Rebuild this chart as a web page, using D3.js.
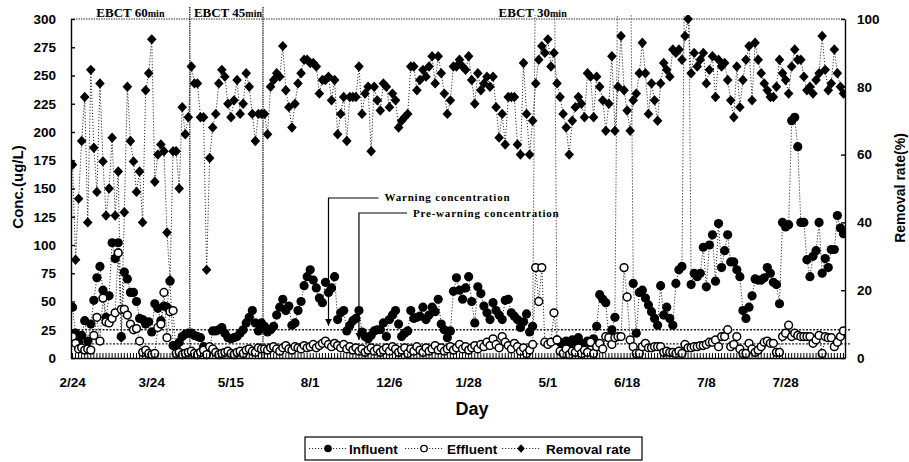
<!DOCTYPE html>
<html>
<head>
<meta charset="utf-8">
<script src="https://cdn.jsdelivr.net/npm/d3@7"></script>
<style>
  body { margin: 0; background: #fff; }
</style>
</head>
<body>
<div id="chart"></div>
<script>
// 进水浓度 (ug/L)，每天一个值
const influent = [
  45,22,14,20,33,15,30,51,71,81, 60,36,55,102,88,102,19,76,70,58,
  58,50,35,34,30,32,23,48,44,33, 46,45,68,11,10,14,19,21,22,
  22,20,19,18,10,5,8,24,24,25, 27,22,18,17,18,19,22,25,31,36, 42,31,24,31,
  28,23,25,28,38,45,52,42,46,29, 31,42,50,64,72,78,69,62,53,49,
  67,58,62,72,34,40,42,24,29,33, 35,42,23,19,17,20,24,25,25,31,
  19,34,38,42,30,19,22,24,42,35, 36,37,45,34,38,45,41,52,30,25,
  18,24,59,71,60,52,62,72,50,31, 63,57,46,40,34,49,42,38,34,51,
  52,40,37,34,27,32,39,23,28,
  380,420,360,410,450,390,400,
  16,14,9,15,12,16,14,18,13,11, 15,14,17,28,56,52,49,18,25,36,
  380,430,400,360,410,
  66,22,58,60,53,47,41,35,29,64, 38,45,35,29,66,78,81,400,420,65,
  75,72,75,98,63,100,109,68,119,80, 95,109,85,85,78,72,42,35,45,55,
  70,69,69,71,80,75,67,65,48,120, 116,118,210,213,187,120,120,87,72,90,
  95,120,75,88,80,96,96,126,115,110
];

// 出水浓度 (ug/L)
const effluent = [
  19,13,8,9,7,8,7,20,36,15, 53,32,31,35,40,93,43,43,38,30,
  25,26,15,5,7,4,3,4,27,30, 58,18,41,42,4,5,3,4,5,
  6,4,3,5,7,3,10,8,5,3, 4,5,6,4,3,5,6,4,7,8, 6,5,9,8,
  8,7,9,10,8,6,9,11,8,7, 10,9,8,11,9,10,12,9,11,13,
  15,12,10,13,11,9,12,8,10,7, 9,6,8,5,7,9,6,8,5,7,
  9,6,10,8,5,7,9,4,8,6, 10,7,5,9,6,8,11,7,9,6,
  8,10,7,9,12,8,10,7,9,11, 8,12,10,14,11,17,12,9,19,14,
  11,8,13,10,6,9,4,7,12,
  80,50,80,14,12,14,40,
  16,6,4,8,3,6,5,9,4,7, 5,14,4,10,13,8,19,18,12,18,
  19,19,80,54,16,
  10,4,4,10,13,9,9,10,10,10, 5,6,5,5,4,6,4,12,9,9,
  10,10,11,11,12,14,14,16,10,19, 19,25,10,12,19,8,4,4,13,8,
  5,7,10,14,15,13,13,5,5,19, 22,29,19,22,20,19,19,19,19,13,
  16,20,4,19,18,18,10,14,19,24
];

// 去除率 (%)
const removal = [
  57,29,47,64,77,40,85,62,49,81, 58,42,50,65,42,55,6,43,80,64,
  58,49,55,40,79,84,94,52,60,63, 61,37,23,61,61,50,74,66,71,
  86,81,81,71,71,26,59,68,72,81, 85,83,75,71,76,82,72,75,84,80, 72,64,72,72,
  72,66,80,82,84,83,92,79,74,68, 75,81,84,88,88,87,87,86,78,82,
  82,83,76,82,66,72,77,64,77,77, 77,86,72,78,80,61,80,76,73,81,
  80,74,78,76,68,70,71,72,86,86, 79,82,85,83,86,89,81,89,84,78,
  72,76,86,86,88,86,85,89,82,75, 84,79,81,83,80,83,74,65,72,63,
  77,77,77,63,60,87,72,60,70,81, 88,92,90,94,86,90,81,77,72,68,
  60,70,74,77,75,71,84,83,71,83, 80,76,67,75,89,67,80,95,79,73,
  67,76,78,84,93,84,72,81,76,70, 81,87,85,83,91,90,91,88,95,100,
  84,90,86,88,90,81,85,89,77,88, 86,87,82,76,71,86,74,82,88,92,
  76,93,88,84,81,79,77,77,80,88, 84,82,78,86,91,88,88,83,79,80,
  78,82,84,95,85,79,81,91,84,80,78
];

// 横轴标签，每 26 天一个
const dayLabels = ["2/24", "3/24", "5/15", "8/1", "12/6", "1/28", "5/1", "6/18", "7/8", "7/28"];
const labelEvery = 26;

// EBCT 阶段
const ebctNames = ["EBCT 60", "EBCT 45", "EBCT 30"];
const ebctStart = [0, 39, 63];
const ebctLabelAt = [19, 51, 151];

// 预警线
const warningLevel = 25;
const preWarningLevel = 12.5;
const warnArrowAt = 84;
const preWarnArrowAt = 94;

const legendNames = ["Influent", "Effluent", "Removal rate"];

const W = 909, H = 462;
const plot = { left: 71, right: 845, top: 19, bottom: 358 };
const N = removal.length;
const boldSans = "'Liberation Sans', Arial, sans-serif";
const boldSerif = "'Liberation Serif', 'Times New Roman', serif";

const svg = d3.select("#chart").append("svg")
    .attr("width", W)
    .attr("height", H);

svg.append("rect").attr("width", W).attr("height", H).attr("fill", "#fff");

// 比例尺
const x = d3.scaleBand().domain(d3.range(N)).range([plot.left, plot.right]);
const cx = i => x(i) + x.bandwidth() / 2;
const yL = d3.scaleLinear().domain([0, 300]).range([plot.bottom, plot.top]);
const yR = d3.scaleLinear().domain([0, 100]).range([plot.bottom, plot.top]);

svg.append("defs").append("clipPath").attr("id", "plotclip")
    .append("rect")
    .attr("x", plot.left).attr("y", plot.top - 4)
    .attr("width", plot.right - plot.left).attr("height", plot.bottom - plot.top + 6);

// 顶部虚线边框
svg.append("line")
    .attr("x1", plot.left).attr("x2", plot.right)
    .attr("y1", plot.top).attr("y2", plot.top)
    .attr("stroke", "#333").attr("stroke-width", 1)
    .attr("stroke-dasharray", "1.5,1");

// EBCT 分隔线
ebctStart.slice(1).forEach(s => {
    svg.append("line")
        .attr("x1", x(s)).attr("x2", x(s))
        .attr("y1", 7).attr("y2", plot.bottom)
        .attr("stroke", "#111").attr("stroke-width", 1.2)
        .attr("stroke-dasharray", "1.5,0.8");
});

ebctNames.forEach((name, k) => {
    const t = svg.append("text")
        .attr("x", cx(ebctLabelAt[k]))
        .attr("y", 17)
        .attr("text-anchor", "middle")
        .attr("font-family", boldSerif)
        .attr("font-weight", "bold")
        .attr("font-size", 13)
        .text(name);
    t.append("tspan").attr("font-size", 10).text("min");
});

// 预警线
[warningLevel, preWarningLevel].forEach(v => {
    svg.append("line")
        .attr("x1", plot.left).attr("x2", plot.right + 6)
        .attr("y1", yL(v)).attr("y2", yL(v))
        .attr("stroke", "#222").attr("stroke-width", 1.3)
        .attr("stroke-dasharray", "2,1.5");
});

// 折线
const lines = svg.append("g").attr("clip-path", "url(#plotclip)");

const lineInf = d3.line().x((d, i) => cx(i)).y(d => yL(d));
const lineRem = d3.line().x((d, i) => cx(i)).y(d => yR(d));

[[influent, lineInf], [effluent, lineInf], [removal, lineRem]].forEach(([arr, gen]) => {
    lines.append("path")
        .datum(arr)
        .attr("fill", "none")
        .attr("stroke", "#333")
        .attr("stroke-width", 1)
        .attr("stroke-dasharray", "1.2,1.8")
        .attr("d", gen);
});

// 标记
const marks = svg.append("g").attr("clip-path", "url(#plotclip)");

marks.selectAll(".inf")
    .data(influent)
    .enter()
    .append("circle")
    .attr("class", "inf")
    .attr("cx", (d, i) => cx(i))
    .attr("cy", d => yL(d))
    .attr("r", 4.6)
    .attr("fill", "#000");

marks.selectAll(".eff")
    .data(effluent)
    .enter()
    .append("circle")
    .attr("class", "eff")
    .attr("cx", (d, i) => cx(i))
    .attr("cy", d => yL(d))
    .attr("r", 3.9)
    .attr("fill", "#fff")
    .attr("stroke", "#000")
    .attr("stroke-width", 1.5);

const diamond = "M0,-5.2L4.8,0L0,5.2L-4.8,0Z";
marks.selectAll(".rem")
    .data(removal)
    .enter()
    .append("path")
    .attr("class", "rem")
    .attr("transform", (d, i) => `translate(${cx(i)},${yR(d)})`)
    .attr("d", diamond)
    .attr("fill", "#000");

// 坐标轴
const styleAxis = g => {
    g.attr("font-family", boldSans).attr("font-weight", "bold").attr("font-size", 13.5);
    g.selectAll("path, line").attr("stroke", "#000").attr("stroke-width", 1.4);
    g.selectAll("text").attr("fill", "#000");
};

svg.append("g")
    .attr("transform", `translate(0,${plot.bottom})`)
    .call(
        d3.axisBottom(x)
            .tickValues(d3.range(N))
            .tickSizeInner(-5)
            .tickSizeOuter(0)
            .tickPadding(19)
            .tickFormat(i => (i % labelEvery === 0 ? dayLabels[i / labelEvery] : ""))
    )
    .call(styleAxis)
    .selectAll(".tick line").attr("stroke-width", 1);

svg.append("g")
    .attr("transform", `translate(${plot.left},0)`)
    .call(d3.axisLeft(yL).tickValues(d3.range(0, 301, 25)).tickSizeInner(-4).tickSizeOuter(0).tickPadding(15))
    .call(styleAxis);

svg.append("g")
    .attr("transform", `translate(${plot.right},0)`)
    .call(d3.axisRight(yR).tickValues(d3.range(0, 101, 20)).tickSizeInner(-4).tickSizeOuter(0).tickPadding(12))
    .call(styleAxis);

// 轴标题
svg.append("text")
    .attr("transform", "translate(23,187) rotate(-90)")
    .attr("text-anchor", "middle")
    .attr("font-family", boldSans).attr("font-weight", "bold").attr("font-size", 15)
    .text("Conc.(ug/L)");

svg.append("text")
    .attr("transform", "translate(905,188) rotate(-90)")
    .attr("text-anchor", "middle")
    .attr("font-family", boldSans).attr("font-weight", "bold").attr("font-size", 14)
    .text("Removal rate(%)");

svg.append("text")
    .attr("x", 472).attr("y", 415)
    .attr("text-anchor", "middle")
    .attr("font-family", boldSans).attr("font-weight", "bold").attr("font-size", 18)
    .text("Day");

// 预警注释
svg.append("defs").append("marker")
    .attr("id", "arrow")
    .attr("viewBox", "0 0 10 10")
    .attr("refX", 10).attr("refY", 5)
    .attr("markerWidth", 6).attr("markerHeight", 6)
    .attr("orient", "auto")
    .append("path").attr("d", "M0,0L10,5L0,10Z").attr("fill", "#000");

const notes = [
    { at: warnArrowAt, level: warningLevel, y: 198, len: 50, text: "Warning concentration", ty: 201 },
    { at: preWarnArrowAt, level: preWarningLevel, y: 213, len: 48, text: "Pre-warning concentration", ty: 217 }
];
notes.forEach(n => {
    const ax = cx(n.at);
    svg.append("path")
        .attr("d", `M${ax + n.len},${n.y}H${ax}V${yL(n.level) - 4}`)
        .attr("fill", "none")
        .attr("stroke", "#000")
        .attr("stroke-width", 1.2)
        .attr("marker-end", "url(#arrow)");
    svg.append("text")
        .attr("x", ax + n.len + 6).attr("y", n.ty)
        .attr("font-family", boldSerif).attr("font-weight", "bold").attr("font-size", 11)
        .attr("letter-spacing", 0.8)
        .text(n.text);
});

// 图例
const legend = svg.append("g");
legend.append("rect")
    .attr("x", 305).attr("y", 437)
    .attr("width", 337).attr("height", 23)
    .attr("fill", "#fff")
    .attr("stroke", "#000").attr("stroke-width", 1.2);

const legendX = [309, 405, 502];
const legendTextX = [349, 447, 546];
legendNames.forEach((name, k) => {
    const lx = legendX[k];
    legend.append("line")
        .attr("x1", lx).attr("x2", lx + 38)
        .attr("y1", 448.5).attr("y2", 448.5)
        .attr("stroke", "#333").attr("stroke-width", 1)
        .attr("stroke-dasharray", "1.2,1.8");
    if (k === 0) {
        legend.append("circle").attr("cx", lx + 19).attr("cy", 448.5).attr("r", 3.8).attr("fill", "#000");
    } else if (k === 1) {
        legend.append("circle").attr("cx", lx + 19).attr("cy", 448.5).attr("r", 3.2)
            .attr("fill", "#fff").attr("stroke", "#000").attr("stroke-width", 1.3);
    } else {
        legend.append("path").attr("transform", `translate(${lx + 19},448.5) scale(0.8)`)
            .attr("d", diamond).attr("fill", "#000");
    }
    legend.append("text")
        .attr("x", legendTextX[k]).attr("y", 453.5)
        .attr("font-family", boldSans).attr("font-weight", "bold").attr("font-size", 13.5)
        .text(name);
});
</script>
</body>
</html>
